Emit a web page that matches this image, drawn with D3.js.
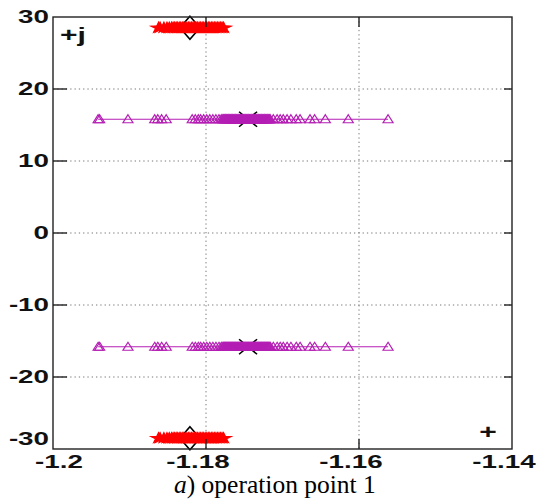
<!DOCTYPE html>
<html><head><meta charset="utf-8">
<script src="https://cdn.jsdelivr.net/npm/d3@7"></script>
<style>body{margin:0;background:#fff}</style>
</head><body>
<svg id="c" width="543" height="502"></svg>
<script>
// ---- data ----
const xTicks = [-1.2, -1.18, -1.16, -1.14];
const xTickLabels = ["-1.2", "-1.18", "-1.16", "-1.14"];
const yTicks = [30, 20, 10, 0, -10, -20, -30];
const yTickLabels = ["30", "20", "10", "0", "-10", "-20", "-30"];
// red stars (real parts), imaginary part +/- 28.5
const starImag = 28.5;
const starReal = [-1.1862, -1.1860, -1.1855, -1.1851, -1.1848, -1.1845, -1.1843, -1.1841, -1.1839,
  -1.1837, -1.1835, -1.1833, -1.1831, -1.1829, -1.1827, -1.1825, -1.1823, -1.1821, -1.1819,
  -1.1817, -1.1815, -1.1813, -1.1811, -1.1809, -1.1807, -1.1805, -1.1803, -1.1801, -1.1799,
  -1.1797, -1.1795, -1.1793, -1.1791, -1.1789, -1.1787, -1.1785, -1.1783, -1.1781, -1.1779,
  -1.1777];
// magenta triangles (real parts), imaginary part +/- 15.8
const triImag = 15.8;
const triReal = [-1.1941, -1.1939, -1.1902, -1.1867, -1.1863, -1.1858, -1.1852, -1.1818, -1.1814,
  -1.1810, -1.1807, -1.1803, -1.1799, -1.1795, -1.1791, -1.1787, -1.1783, -1.1780,
  -1.1778, -1.1777, -1.1776, -1.1775, -1.1774, -1.1773, -1.1772, -1.1771, -1.1770, -1.1769,
  -1.1768, -1.1767, -1.1766, -1.1765, -1.1764, -1.1763, -1.1762, -1.1761, -1.1760, -1.1759,
  -1.1758, -1.1757, -1.1756, -1.1755, -1.1754, -1.1753, -1.1752, -1.1751, -1.1750, -1.1749,
  -1.1748, -1.1747, -1.1746, -1.1745, -1.1744, -1.1743, -1.1742, -1.1741, -1.1740, -1.1739,
  -1.1738, -1.1737, -1.1736, -1.1735, -1.1734, -1.1733, -1.1732, -1.1731, -1.1730, -1.1729,
  -1.1728, -1.1727, -1.1726, -1.1725, -1.1724, -1.1723, -1.1722, -1.1721, -1.1720, -1.1719,
  -1.1718, -1.1717, -1.1716, -1.1712, -1.1707, -1.1703, -1.1699, -1.1694,
  -1.1689, -1.1682, -1.1677, -1.1664, -1.1658, -1.1644, -1.1614, -1.1562];
// black reference markers
const diamondPt = {re: -1.1821, im: 28.5};
const crossPt = {re: -1.1745, im: 15.8};

// ---- chart ----
const svg = d3.select("#c");
const x = d3.scaleLinear().domain([-1.2, -1.14]).range([53, 512]);
const y = d3.scaleLinear().domain([-30, 30]).range([449, 17]);
const STRETCH = 1.5;
function stretchText(sel){
  sel.each(function(){ const w=this.getComputedTextLength(); d3.select(this).attr("textLength", w*STRETCH).attr("lengthAdjust","spacingAndGlyphs"); });
}

// grid
const grid = svg.append("g").attr("stroke", "#777").attr("stroke-width", 1).attr("stroke-dasharray", "1.3,3");
grid.selectAll("line.v").data([-1.18, -1.16]).join("line")
  .attr("x1", d => x(d)).attr("x2", d => x(d)).attr("y1", y(30)).attr("y2", y(-30));
grid.selectAll("line.h").data([20, 10, 0, -10, -20]).join("line")
  .attr("y1", d => y(d)).attr("y2", d => y(d)).attr("x1", x(-1.2)).attr("x2", x(-1.14));

// black markers (drawn under coloured ones)
const mk = svg.append("g").attr("stroke", "#000").attr("stroke-width", 1.6).attr("fill", "none");
[1, -1].forEach(s => {
  const cx = x(diamondPt.re), cy = y(s * diamondPt.im);
  mk.append("path").attr("d", `M${cx},${cy-11.5}L${cx+10},${cy}L${cx},${cy+11.5}L${cx-10},${cy}Z`);
  const qx = x(crossPt.re), qy = y(s * crossPt.im);
  mk.append("path").attr("d", `M${qx-9},${qy-7.5}L${qx+9},${qy+7.5}M${qx-9},${qy+7.5}L${qx+9},${qy-7.5}`);
});

// magenta series
const mag = "#b41eb4";
const line = d3.line().x(d => x(d[0])).y(d => y(d[1]));
[1, -1].forEach(s => {
  const pts = triReal.map(r => [r, s * triImag]);
  svg.append("path").attr("d", line(pts)).attr("stroke", mag).attr("stroke-width", 1.2).attr("fill", "none");
  svg.append("g").selectAll("path").data(pts).join("path")
    .attr("transform", d => `translate(${x(d[0])},${y(d[1])})`)
    .attr("d", "M0,-4.5L5,3.5L-5,3.5Z")
    .attr("fill", "none").attr("stroke", mag).attr("stroke-width", 1.2);
});

// red series
const star = d3.symbol().type(d3.symbolStar).size(36);
[1, -1].forEach(s => {
  const pts = starReal.map(r => [r, s * starImag]);
  svg.append("path").attr("d", line(pts)).attr("stroke", "red").attr("stroke-width", 1.2).attr("fill", "none");
  svg.append("g").selectAll("path").data(pts).join("path")
    .attr("transform", d => `translate(${x(d[0])},${y(d[1])}) scale(1.5,1)`)
    .attr("d", star).attr("fill", "red").attr("stroke", "red").attr("stroke-width", 0.8);
});

// axes box + ticks
const ax = svg.append("g").attr("stroke", "#222").attr("stroke-width", 1.4);
ax.append("rect").attr("x", x(-1.2)).attr("y", y(30)).attr("width", x(-1.14)-x(-1.2)).attr("height", y(-30)-y(30)).attr("fill", "none");
ax.selectAll("line.xt").data([-1.18, -1.16]).join("line")
  .attr("x1", d => x(d)).attr("x2", d => x(d)).attr("y1", y(30)).attr("y2", y(30)+10);
ax.selectAll("line.xb").data([-1.18, -1.16]).join("line")
  .attr("x1", d => x(d)).attr("x2", d => x(d)).attr("y1", y(-30)).attr("y2", y(-30)-10);
ax.selectAll("line.yl").data([20, 10, 0, -10, -20]).join("line")
  .attr("y1", d => y(d)).attr("y2", d => y(d)).attr("x1", x(-1.2)).attr("x2", x(-1.2)+14);
ax.selectAll("line.yr").data([20, 10, 0, -10, -20]).join("line")
  .attr("y1", d => y(d)).attr("y2", d => y(d)).attr("x1", x(-1.14)).attr("x2", x(-1.14)-8);

// tick labels
const lab = svg.append("g").attr("font-family", "Liberation Sans, Arial, sans-serif").attr("font-weight", "bold").attr("font-size", 18.5).attr("fill", "#111");
lab.selectAll("text.y").data(yTicks).join("text")
  .attr("x", 49).attr("y", d => d === -30 ? y(d) - 10 : y(d)).attr("dy", "0.35em").attr("text-anchor", "end")
  .text((d, i) => yTickLabels[i]).call(stretchText);
lab.selectAll("text.x").data(xTicks).join("text")
  .attr("x", d => Math.max(59, x(d) - 8)).attr("y", 468).attr("text-anchor", "middle")
  .text((d, i) => xTickLabels[i]).call(stretchText);

// annotations
lab.append("text").attr("x", 60).attr("y", 42).attr("font-size", 20).text("+j").call(stretchText);
lab.append("text").attr("x", 488).attr("y", 439).attr("text-anchor", "middle").attr("font-size", 20).text("+").call(stretchText);

// caption
const cap = svg.append("text").attr("x", 174).attr("y", 493).attr("font-family", "Liberation Serif, Times New Roman, serif").attr("font-size", 25.5).attr("fill", "#000");
cap.append("tspan").attr("font-style", "italic").text("a");
cap.append("tspan").text(") operation point 1");
</script>
</body></html>
